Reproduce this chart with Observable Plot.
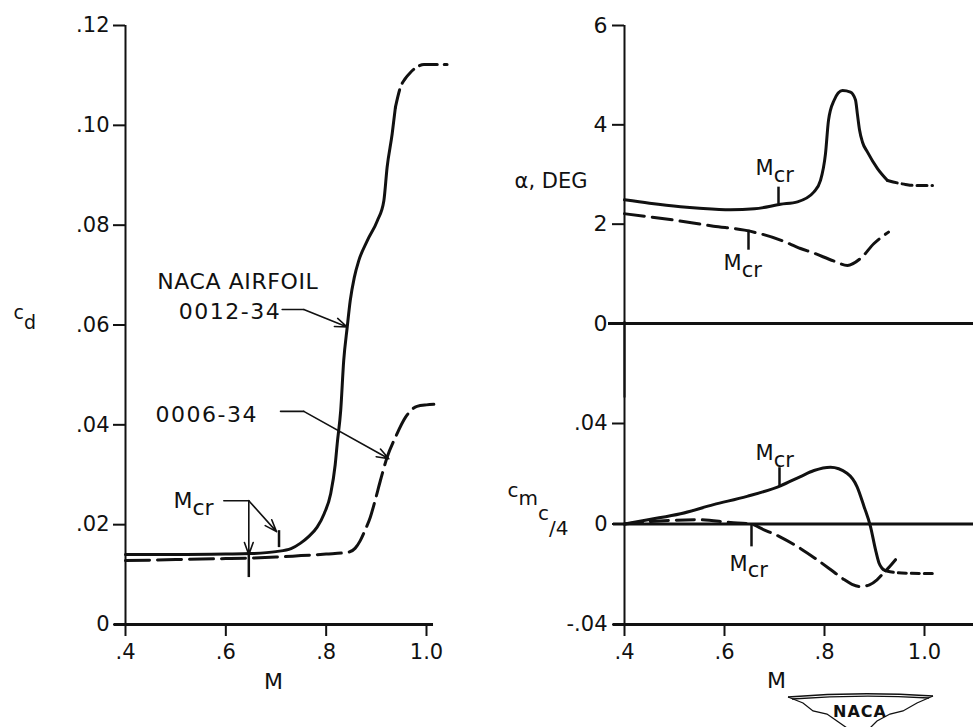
<!DOCTYPE html>
<html>
<head>
<meta charset="utf-8">
<script src="https://cdn.jsdelivr.net/npm/d3@7"></script>
<script src="https://cdn.jsdelivr.net/npm/@observablehq/plot@0.6"></script>
<style>
html, body { margin: 0; padding: 0; background: #fff; }
#fig { position: relative; width: 973px; height: 727px; overflow: hidden; background: #fff; }
#fig > svg { position: absolute; }
</style>
</head>
<body>
<div id="fig"></div>
<script>
// ---------------- DATA ----------------
const mTicks = [0.4, 0.6, 0.8, 1.0];
const mTickLabels = [".4", ".6", ".8", "1.0"];
const cdTicks = [0, 0.02, 0.04, 0.06, 0.08, 0.10, 0.12];
const cdTickLabels = ["0", ".02", ".04", ".06", ".08", ".10", ".12"];
const alphaTicks = [0, 2, 4, 6];
const alphaTickLabels = ["0", "2", "4", "6"];
const cmTicks = [-0.04, 0, 0.04];
const cmTickLabels = ["-.04", "0", ".04"];

// Drag coefficient, NACA 0012-34 (solid, then dashed extrapolation)
const cd0012M = [0.40, 0.50, 0.60, 0.65, 0.70, 0.73, 0.749, 0.765, 0.782, 0.796, 0.809, 0.818, 0.822, 0.829, 0.835, 0.842, 0.848, 0.856, 0.865, 0.882, 0.902, 0.915, 0.9215, 0.9316, 0.938];
const cd0012  = [0.0140, 0.0140, 0.0141, 0.0142, 0.0146, 0.0152, 0.0163, 0.0176, 0.0195, 0.0222, 0.0262, 0.0320, 0.0362, 0.0429, 0.0529, 0.0596, 0.0649, 0.0695, 0.0729, 0.0769, 0.0809, 0.0849, 0.0916, 0.0983, 0.1036];
const cd0012ExtM = [0.938, 0.948, 0.958, 0.968, 0.980, 0.995, 1.02, 1.041];
const cd0012Ext  = [0.1036, 0.1076, 0.1094, 0.1106, 0.1116, 0.1122, 0.1122, 0.1122];
// Drag coefficient, NACA 0006-34 (dashed)
const cd0006M = [0.40, 0.50, 0.60, 0.65, 0.70, 0.75, 0.80, 0.845, 0.858, 0.868, 0.878, 0.888, 0.898, 0.908, 0.9215, 0.938, 0.958, 0.981, 1.0, 1.0146];
const cd0006  = [0.0128, 0.0130, 0.0132, 0.0133, 0.0135, 0.0138, 0.0141, 0.0145, 0.0153, 0.0168, 0.0190, 0.0215, 0.0250, 0.0288, 0.0335, 0.0375, 0.0415, 0.0437, 0.0440, 0.0441];

// Angle of attack, deg
const alpha0012M = [0.40, 0.45, 0.512, 0.55, 0.612, 0.66, 0.712, 0.746, 0.779, 0.792, 0.802, 0.808, 0.819, 0.836, 0.852, 0.862, 0.866, 0.870, 0.876, 0.886, 0.906, 0.926];
const alpha0012  = [2.49, 2.42, 2.35, 2.32, 2.29, 2.31, 2.40, 2.45, 2.65, 2.88, 3.42, 4.09, 4.49, 4.69, 4.66, 4.50, 4.20, 3.90, 3.65, 3.45, 3.12, 2.88];
const alpha0012ExtM = [0.926, 0.946, 0.962, 0.979, 1.0, 1.016];
const alpha0012Ext  = [2.88, 2.83, 2.80, 2.78, 2.78, 2.78];
const alpha0006M = [0.40, 0.50, 0.578, 0.64, 0.712, 0.752, 0.778, 0.818, 0.846, 0.872, 0.899, 0.928];
const alpha0006  = [2.21, 2.08, 1.96, 1.88, 1.68, 1.51, 1.42, 1.26, 1.17, 1.31, 1.61, 1.84];

// Quarter-chord pitching moment coefficient
const cm0012M = [0.40, 0.45, 0.512, 0.578, 0.645, 0.712, 0.752, 0.779, 0.812, 0.845, 0.865, 0.879, 0.892, 0.902, 0.909, 0.915, 0.922];
const cm0012  = [0, 0.0018, 0.0041, 0.0077, 0.0110, 0.0152, 0.0189, 0.0213, 0.0226, 0.0202, 0.0149, 0.0070, -0.0010, -0.0102, -0.0155, -0.0176, -0.0186];
const cm0012ExtM = [0.922, 0.94, 0.97, 1.0, 1.016];
const cm0012Ext  = [-0.0186, -0.0193, -0.0196, -0.0197, -0.0197];
const cm0006M = [0.40, 0.47, 0.546, 0.612, 0.652, 0.679, 0.712, 0.745, 0.78, 0.812, 0.839, 0.855, 0.872, 0.89, 0.905, 0.918, 0.930, 0.942];
const cm0006  = [0, 0.0012, 0.0017, 0.0006, 0.0, -0.0023, -0.0052, -0.0089, -0.0135, -0.0181, -0.0221, -0.0240, -0.0249, -0.0242, -0.0222, -0.0195, -0.0170, -0.0142];

// Critical Mach number markers: [M, value from, value to]
const mcrCd0012 = [0.706, 0.0154, 0.0188];
const mcrCd0006 = [0.6458, 0.0094, 0.0140];
const mcrAlpha0012 = [0.708, 2.40, 2.745];
const mcrAlpha0006 = [0.648, 1.476, 1.878];
const mcrCm0012 = [0.71, 0.0149, 0.0224];
const mcrCm0006 = [0.654, -0.0091, -0.0003];

// Annotation labels (data units)
const cdLabels = [
  {text: "NACA AIRFOIL", x: 0.4631, y: 0.0686},
  {text: "0012-34", x: 0.5063, y: 0.0627},
  {text: "0006-34", x: 0.4598, y: 0.0420},
  {text: "Mcr", x: 0.4957, y: 0.0247}
];
const cdLeaders = [
  [{x: 0.7123, y: 0.0631}, {x: 0.7554, y: 0.0631}],
  [{x: 0.709, y: 0.0427}, {x: 0.7554, y: 0.0427}],
  [{x: 0.596, y: 0.0248}, {x: 0.6458, y: 0.0248}]
];
const cdArrows = [
  {x1: 0.7554, y1: 0.0631, x2: 0.8419, y2: 0.0596},
  {x1: 0.7554, y1: 0.0427, x2: 0.9249, y2: 0.0332},
  {x1: 0.6458, y1: 0.0248, x2: 0.6458, y2: 0.0140},
  {x1: 0.6458, y1: 0.0248, x2: 0.701, y2: 0.0186}
];
const alphaLabels = [
  {text: "Mcr", x: 0.662, y: 3.117},
  {text: "Mcr", x: 0.598, y: 1.204}
];
const cmLabels = [
  {text: "Mcr", x: 0.662, y: 0.028},
  {text: "Mcr", x: 0.61, y: -0.016}
];

// ---------------- HELPERS ----------------
const FONT = '"DejaVu Sans", sans-serif';
const INK = "#111";
const pts = (xs, ys) => xs.map((x, i) => ({x, y: ys[i]}));
const fmt = (ticks, labels) => (d) => labels[ticks.indexOf(d)] ?? "";
const baseStyle = {fontFamily: FONT, fontSize: "21px", background: "transparent", color: INK, overflow: "visible"};
const solid = {x: "x", y: "y", stroke: INK, strokeWidth: 3, curve: "monotone-x"};

const RICH = {
  "Mcr": [["M"], ["cr", "0.3em"]],
  "cd": [["c"], ["d", "0.5em"]],
  "cmc/4": [["c"], ["m", "0.4em"], ["c", "0.75em"], ["/4", "0.75em"]]
};
const SPACING = {"NACA AIRFOIL": "0.6px", "0012-34": "1.5px", "0006-34": "1.5px"};
function finish(svg) {
  d3.select(svg).selectAll("text").each(function () {
    const t = this.textContent;
    if (SPACING[t]) this.setAttribute("letter-spacing", SPACING[t]);
    const parts = RICH[t];
    if (!parts) return;
    const sel = d3.select(this);
    sel.text(null);
    for (const [s, dy] of parts) {
      const ts = sel.append("tspan").text(s);
      if (dy) ts.attr("dy", dy);
    }
  });
  return svg;
}
function mcrTick(m) {
  return Plot.ruleX([m[0]], {y1: m[1], y2: m[2], stroke: INK, strokeWidth: 2.5});
}

const fig = document.getElementById("fig");

// ---------------- LEFT: c_d vs M ----------------
const cdPlot = Plot.plot({
  width: 480, height: 727,
  marginLeft: 125, marginRight: 54, marginTop: 25, marginBottom: 103,
  x: {domain: [0.4, 1.0]},
  y: {domain: [0, 0.12]},
  style: baseStyle,
  marks: [
    Plot.ruleX([0.4], {y1: 0, y2: 0.12, stroke: INK, strokeWidth: 2}),
    Plot.ruleY([0], {x1: 0.378, x2: 1.014, stroke: INK, strokeWidth: 3}),
    Plot.axisY({ticks: cdTicks, tickFormat: fmt(cdTicks, cdTickLabels), tickSize: 12, tickPadding: 4, strokeWidth: 2, label: null, fontSize: 21}),
    Plot.axisX({ticks: mTicks, tickFormat: fmt(mTicks, mTickLabels), tickSize: 12, tickPadding: 8, strokeWidth: 2, label: null, fontSize: 21}),
    Plot.line(pts(cd0012M, cd0012), solid),
    Plot.line(pts(cd0012ExtM, cd0012Ext), {...solid, strokeDasharray: "18,7"}),
    Plot.line(pts(cd0006M, cd0006), {...solid, strokeDasharray: "24,8"}),
    ...cdLeaders.map(l => Plot.line(l, {x: "x", y: "y", stroke: INK, strokeWidth: 1.6})),
    Plot.arrow(cdArrows, {x1: "x1", y1: "y1", x2: "x2", y2: "y2", stroke: INK, strokeWidth: 1.6, headLength: 12, headAngle: 40}),
    mcrTick(mcrCd0012),
    mcrTick(mcrCd0006),
    Plot.text(cdLabels, {x: "x", y: "y", text: "text", textAnchor: "start", fontSize: 22, fill: INK}),
    Plot.text([{text: "cd", x: 0.1768, y: 0.0624}], {x: "x", y: "y", text: "text", textAnchor: "start", fontSize: 19, fill: INK}),
    Plot.text([{text: "M", x: 0.695, y: -0.0116}], {x: "x", y: "y", text: "text", fontSize: 22, fill: INK})
  ]
});
cdPlot.style.left = "0px"; cdPlot.style.top = "0px";
fig.appendChild(finish(cdPlot));

// ---------------- RIGHT TOP: alpha vs M ----------------
const alphaPlot = Plot.plot({
  width: 493, height: 360,
  marginLeft: 144, marginRight: 0, marginTop: 25, marginBottom: 37,
  x: {domain: [0.4, 1.098], axis: null},
  y: {domain: [0, 6]},
  style: baseStyle,
  marks: [
    Plot.ruleX([0.4], {y1: -1.5, y2: 6, stroke: INK, strokeWidth: 2}),
    Plot.ruleY([0], {x1: 0.368, x2: 1.098, stroke: INK, strokeWidth: 3}),
    Plot.axisY({ticks: alphaTicks, tickFormat: fmt(alphaTicks, alphaTickLabels), tickSize: 12, tickPadding: 5, strokeWidth: 2, label: null, fontSize: 22}),
    Plot.line(pts(alpha0012M, alpha0012), solid),
    Plot.line(pts(alpha0012ExtM, alpha0012Ext), {...solid, strokeDasharray: "10,5"}),
    Plot.line(pts(alpha0006M, alpha0006), {...solid, strokeDasharray: "20,8"}),
    mcrTick(mcrAlpha0012),
    mcrTick(mcrAlpha0006),
    Plot.text(alphaLabels, {x: "x", y: "y", text: "text", textAnchor: "start", fontSize: 21, fill: INK}),
    Plot.text([{text: "α, DEG", x: 0.326, y: 2.865}], {x: "x", y: "y", text: "text", textAnchor: "end", fontSize: 21, fill: INK})
  ]
});
alphaPlot.style.left = "480px"; alphaPlot.style.top = "0px";
fig.appendChild(finish(alphaPlot));

// ---------------- RIGHT BOTTOM: c_m c/4 vs M ----------------
const cmPlot = Plot.plot({
  width: 493, height: 367,
  marginLeft: 144, marginRight: 0, marginTop: 63, marginBottom: 103,
  x: {domain: [0.4, 1.098]},
  y: {domain: [-0.04, 0.04]},
  style: baseStyle,
  marks: [
    Plot.ruleX([0.4], {y1: -0.04, y2: 0.0805, stroke: INK, strokeWidth: 2}),
    Plot.ruleY([0], {x1: 0.378, x2: 1.098, stroke: INK, strokeWidth: 3}),
    Plot.ruleY([-0.04], {x1: 0.378, x2: 1.098, stroke: INK, strokeWidth: 3}),
    Plot.axisY({ticks: cmTicks, tickFormat: fmt(cmTicks, cmTickLabels), tickSize: 12, tickPadding: 5, strokeWidth: 2, label: null, fontSize: 21}),
    Plot.axisX({ticks: mTicks, tickFormat: fmt(mTicks, mTickLabels), tickSize: 12, tickPadding: 8, strokeWidth: 2, label: null, fontSize: 21}),
    Plot.line(pts(cm0012M, cm0012), solid),
    Plot.line(pts(cm0012ExtM, cm0012Ext), {...solid, strokeDasharray: "8,5"}),
    Plot.line(pts(cm0006M, cm0006), {...solid, strokeDasharray: "18,8"}),
    mcrTick(mcrCm0012),
    mcrTick(mcrCm0006),
    Plot.text(cmLabels, {x: "x", y: "y", text: "text", textAnchor: "start", fontSize: 21, fill: INK}),
    Plot.text([{text: "cmc/4", x: 0.166, y: 0.0131}], {x: "x", y: "y", text: "text", textAnchor: "start", fontSize: 20, fill: INK}),
    Plot.text([{text: "M", x: 0.704, y: -0.0626}], {x: "x", y: "y", text: "text", fontSize: 22, fill: INK})
  ]
});
cmPlot.style.left = "480px"; cmPlot.style.top = "360px";
finish(cmPlot);
// NACA wing emblem (decoration)
const logo = d3.select(cmPlot).append("g").attr("fill", "none").attr("stroke", INK).attr("stroke-width", 1.3);
logo.append("path").attr("d", "M308,337 Q380,331 453,336");
logo.append("path").attr("d", "M312,339 Q380,334 449,338");
logo.append("path").attr("d", "M308,337 L323,343 L333,351 L347,354 L357,361 L367,368");
logo.append("path").attr("d", "M453,336 L437,343 L423,351 L410,354 L397,361 L390,368");
d3.select(cmPlot).append("text").attr("x", 380).attr("y", 357).attr("text-anchor", "middle")
  .attr("font-size", 16).attr("font-weight", 600).attr("letter-spacing", "1px").attr("fill", INK)
  .attr("font-family", FONT).text("NACA");
fig.appendChild(cmPlot);
</script>
</body>
</html>
